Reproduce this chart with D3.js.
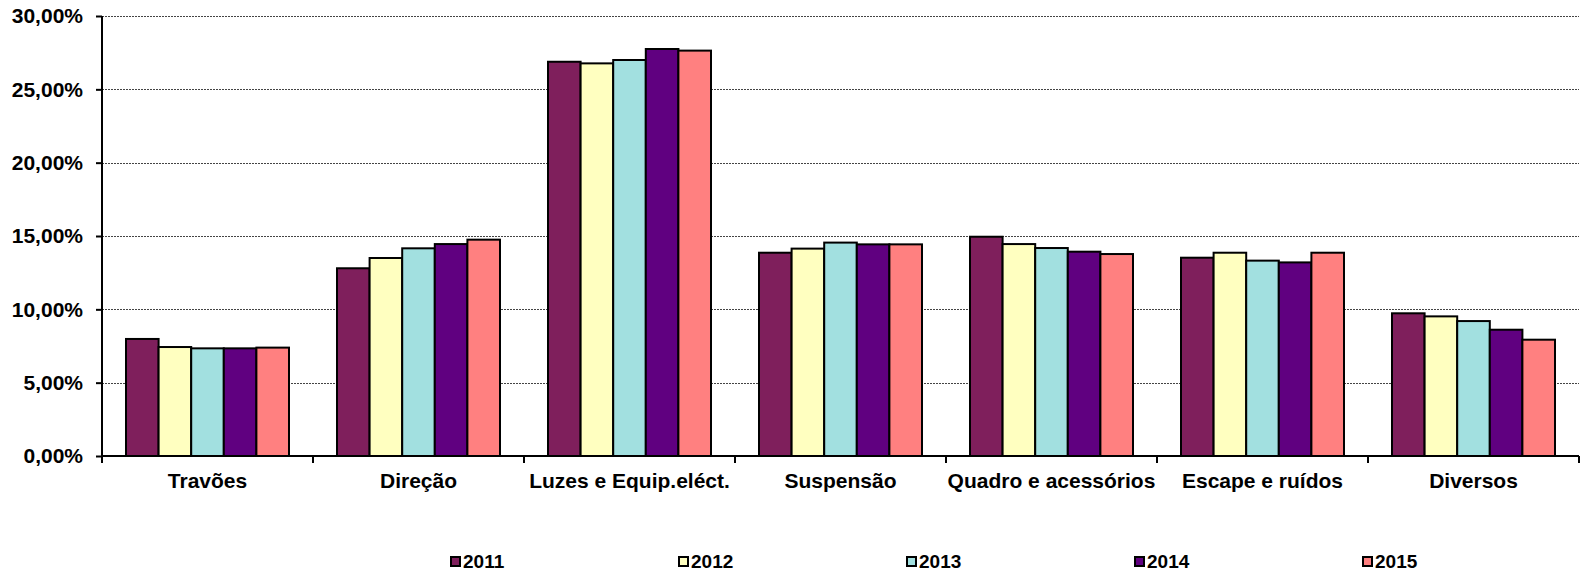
<!DOCTYPE html>
<html>
<head>
<meta charset="utf-8">
<script src="https://cdn.jsdelivr.net/npm/d3@7"></script>
<style>
  html, body { margin: 0; padding: 0; background: #fff; }
  svg { display: block; font-family: "Liberation Sans", Arial, sans-serif; }
</style>
</head>
<body>
<svg id="chart" width="1583" height="575"></svg>
<script>
const categories = ["Travões", "Direção", "Luzes e Equip.eléct.", "Suspensão", "Quadro e acessórios", "Escape e ruídos", "Diversos"];
const years = ["2011", "2012", "2013", "2014", "2015"];
const v2011 = [7.98, 12.80, 26.88, 13.86, 14.95, 13.52, 9.73];
const v2012 = [7.43, 13.50, 26.77, 14.14, 14.45, 13.86, 9.52];
const v2013 = [7.34, 14.16, 27.00, 14.55, 14.18, 13.32, 9.20];
const v2014 = [7.34, 14.45, 27.75, 14.43, 13.93, 13.20, 8.61];
const v2015 = [7.39, 14.75, 27.64, 14.43, 13.77, 13.86, 7.93];
const yTicks = [0, 5, 10, 15, 20, 25, 30];
const colors = ["#7F1F5C", "#FFFFC0", "#A2E0E0", "#600080", "#FF8080"];

const series = [v2011, v2012, v2013, v2014, v2015];
const svg = d3.select("#chart");
const W = 1583, H = 575;
const m = { top: 16, right: 4, bottom: 119, left: 102 };
const iw = W - m.left - m.right, ih = H - m.top - m.bottom;
const g = svg.append("g").attr("transform", `translate(${m.left},${m.top})`);

const x = d3.scaleBand().domain(categories).range([0, iw]).paddingInner(0.2275).paddingOuter(0.11375);
const x1 = d3.scaleBand().domain(years).range([0, x.bandwidth()]).padding(0);
const y = d3.scaleLinear().domain([0, 30]).range([ih, 0]);
const fmt = v => d3.format(".2f")(v).replace(".", ",") + "%";

// gridlines
g.append("g").selectAll("line").data(yTicks.filter(d => d > 0)).join("line")
  .attr("x1", 0).attr("x2", iw)
  .attr("y1", d => Math.round(y(d)) + 0.5).attr("y2", d => Math.round(y(d)) + 0.5)
  .attr("stroke", "#444").attr("stroke-width", 1).attr("stroke-dasharray", "2,1");

// bars
const groups = g.append("g").selectAll("g").data(categories).join("g")
  .attr("transform", d => `translate(${x(d)},0)`);
groups.selectAll("rect").data((c, ci) => years.map((yr, i) => ({ yr, i, v: series[i][ci] }))).join("rect")
  .attr("x", d => x1(d.yr)).attr("width", x1.bandwidth())
  .attr("y", d => y(d.v)).attr("height", d => ih - y(d.v))
  .attr("fill", d => colors[d.i]).attr("stroke", "#000").attr("stroke-width", 2);

// y axis
const yAxis = g.append("g").call(d3.axisLeft(y).tickValues(yTicks).tickFormat(fmt).tickSize(6).tickPadding(13));
yAxis.select(".domain").attr("stroke", "#000").attr("stroke-width", 2).attr("d", `M0,0V${ih}`);
yAxis.selectAll(".tick line").attr("stroke", "#000").attr("stroke-width", 2);
yAxis.selectAll(".tick text").attr("font-size", 21).attr("font-weight", "bold").attr("fill", "#000")
  .attr("font-family", "'Liberation Sans', Arial, sans-serif");

// x axis
const xAxis = g.append("g").attr("transform", `translate(0,${ih})`);
xAxis.append("line").attr("x1", 0).attr("x2", iw).attr("y1", 0).attr("y2", 0)
  .attr("stroke", "#000").attr("stroke-width", 2);
const step = x.step();
xAxis.selectAll("line.tk").data(d3.range(categories.length + 1)).join("line").attr("class", "tk")
  .attr("x1", i => i * step).attr("x2", i => i * step).attr("y1", 0).attr("y2", 7)
  .attr("stroke", "#000").attr("stroke-width", 2);
xAxis.selectAll("text").data(categories).join("text")
  .attr("x", d => x(d) + x.bandwidth() / 2).attr("y", 32)
  .attr("text-anchor", "middle").attr("font-size", 21).attr("font-weight", "bold").attr("fill", "#000")
  .text(d => d);

// legend
const legend = svg.append("g").attr("transform", "translate(450,556)");
const lg = legend.selectAll("g").data(years).join("g").attr("transform", (d, i) => `translate(${i * 228},0)`);
lg.append("rect").attr("x", 1).attr("y", 1).attr("width", 9).attr("height", 9)
  .attr("fill", (d, i) => colors[i]).attr("stroke", "#000").attr("stroke-width", 2);
lg.append("text").attr("x", 13).attr("y", 11.5).attr("font-size", 19).attr("font-weight", "bold").attr("fill", "#000")
  .text(d => d);
</script>
</body>
</html>
